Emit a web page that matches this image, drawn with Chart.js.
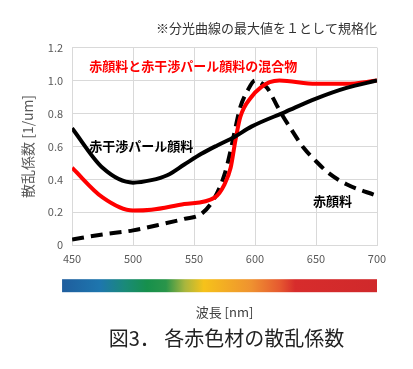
<!DOCTYPE html>
<html>
<head>
<meta charset="utf-8">
<script src="https://cdn.jsdelivr.net/npm/chart.js@4"></script>
<style>
  html, body { margin: 0; padding: 0; background: #fff; }
  #wrap { width: 413px; height: 369px; }
</style>
</head>
<body>
<div id="wrap"><canvas id="scatterChart"></canvas></div>
<script>
// wavelength [nm] and scattering coefficient values (normalised)
const pearlNm = [450, 475, 500, 515, 528, 542, 556, 569, 583, 597, 625, 650, 675, 700];
const pearlVal = [0.71, 0.47, 0.38, 0.395, 0.425, 0.49, 0.555, 0.606, 0.657, 0.72, 0.81, 0.89, 0.955, 1.0];

const mixNm = [450, 475, 500, 515, 542, 567, 575, 580, 584, 588, 597, 605, 612, 620, 650, 675, 700];
const mixVal = [0.47, 0.29, 0.21, 0.215, 0.25, 0.29, 0.37, 0.47, 0.64, 0.78, 0.90, 0.96, 0.99, 1.0, 0.98, 0.98, 1.0];

const redNm = [450, 475, 500, 525, 542, 556, 567, 575, 580, 583, 588, 594, 600, 605, 610, 615, 620, 630, 640, 650, 660, 675, 700];
const redVal = [0.035, 0.065, 0.09, 0.13, 0.16, 0.19, 0.29, 0.43, 0.575, 0.68, 0.84, 0.94, 1.0, 0.985, 0.955, 0.89, 0.82, 0.70, 0.59, 0.51, 0.44, 0.37, 0.30];

const xTicks = [450, 500, 550, 600, 650, 700];
const yTicks = [0, 0.2, 0.4, 0.6, 0.8, 1, 1.2];

const labels = [
    { text: "赤顔料と赤干渉パール顔料の混合物", x: 464, y: 1.09, color: "#ff0000" },
    { text: "赤干渉パール顔料", x: 464, y: 0.60, color: "#000000" },
    { text: "赤顔料", x: 647.5, y: 0.27, color: "#000000" },
];

const caption = "図3． 各赤色材の散乱係数";

const toPoints = (xs, ys) => xs.map((x, i) => ({ x: x, y: ys[i] }));

const jp = "'Noto Sans CJK JP', 'Liberation Sans', sans-serif";

// spectrum bar under the x axis, in-plot labels and the figure caption
const extras = {
    id: "extras",
    afterDatasetsDraw(chart) {
        const { ctx, scales } = chart;
        const x = scales.x, y = scales.y;
        ctx.save();
        ctx.font = "bold 13px " + jp;
        ctx.textBaseline = "middle";
        labels.forEach(l => {
            ctx.fillStyle = l.color;
            ctx.fillText(l.text, x.getPixelForValue(l.x), y.getPixelForValue(l.y));
        });
        ctx.restore();
    },
    afterDraw(chart) {
        const { ctx, scales, chartArea } = chart;
        const left = scales.x.getPixelForValue(450) - 10;
        const right = scales.x.getPixelForValue(700);
        const top = chartArea.bottom + 34;
        const g = ctx.createLinearGradient(left, 0, right, 0);
        g.addColorStop(0, "#1f5e9e");
        g.addColorStop(0.12, "#1e76ae");
        g.addColorStop(0.2, "#1a8a78");
        g.addColorStop(0.27, "#16904c");
        g.addColorStop(0.33, "#2a954a");
        g.addColorStop(0.39, "#a8b63e");
        g.addColorStop(0.45, "#f6c21a");
        g.addColorStop(0.6, "#ef9230");
        g.addColorStop(0.69, "#e65a30");
        g.addColorStop(0.74, "#d72c2c");
        g.addColorStop(1, "#d0292b");
        ctx.save();
        ctx.fillStyle = g;
        ctx.fillRect(left, top, right - left, 13);

        ctx.fillStyle = "#222222";
        ctx.font = "20px " + jp;
        ctx.textAlign = "center";
        ctx.textBaseline = "middle";
        ctx.fillText(caption, (left + right) / 2 + 7, chartArea.bottom + 93);
        ctx.restore();
    }
};

new Chart(document.getElementById("scatterChart").getContext("2d"), {
    type: "line",
    data: {
        datasets: [
            {
                label: "赤干渉パール顔料",
                data: toPoints(pearlNm, pearlVal),
                borderColor: "#000000",
                borderWidth: 4,
                pointRadius: 0,
                cubicInterpolationMode: "monotone",
                fill: false,
            },
            {
                label: "赤顔料と赤干渉パール顔料の混合物",
                data: toPoints(mixNm, mixVal),
                borderColor: "#ff0000",
                borderWidth: 4,
                pointRadius: 0,
                cubicInterpolationMode: "monotone",
                fill: false,
            },
            {
                label: "赤顔料",
                data: toPoints(redNm, redVal),
                borderColor: "#000000",
                borderWidth: 4,
                borderDash: [12, 7],
                pointRadius: 0,
                cubicInterpolationMode: "monotone",
                fill: false,
            },
        ],
    },
    options: {
        responsive: true,
        maintainAspectRatio: false,
        animation: false,
        layout: { padding: { left: 19, right: 36, top: 4, bottom: 49 } },
        scales: {
            x: {
                type: "linear",
                min: 450,
                max: 700,
                afterBuildTicks: axis => { axis.ticks = xTicks.map(v => ({ value: v })); },
                grid: { color: "#d9d9d9", drawTicks: false },
                border: { color: "#d9d9d9" },
                ticks: { color: "#595959", font: { size: 11, family: jp }, padding: 7 },
                title: {
                    display: true,
                    text: "波長 [nm]",
                    color: "#404040",
                    font: { size: 13, family: jp },
                    padding: { top: 32, bottom: 0 },
                },
            },
            y: {
                min: 0,
                max: 1.2,
                afterBuildTicks: axis => { axis.ticks = yTicks.map(v => ({ value: v })); },
                grid: { color: "#d9d9d9", drawTicks: false },
                border: { display: false },
                ticks: { color: "#595959", font: { size: 11, family: jp }, padding: 9 },
                title: {
                    display: true,
                    text: "散乱係数 [1/um]",
                    color: "#595959",
                    font: { size: 14, family: jp },
                    padding: { top: 0, bottom: 3 },
                },
            },
        },
        plugins: {
            legend: { display: false },
            tooltip: { enabled: false },
            title: { display: false },
            subtitle: {
                display: true,
                position: "top",
                align: "end",
                text: "※分光曲線の最大値を１として規格化",
                color: "#333333",
                font: { size: 13, family: jp },
                padding: { top: 16, bottom: 12 },
            },
        },
    },
    plugins: [extras],
});
</script>
</body>
</html>
